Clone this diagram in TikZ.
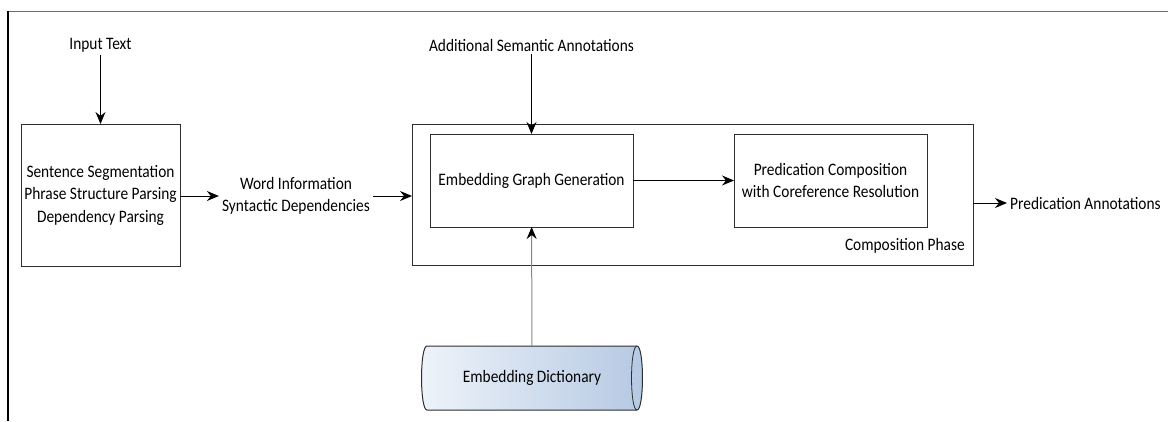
\documentclass[tikz,border=0pt]{standalone}
\usepackage{fontspec}
\setmainfont{Carlito}[FakeStretch=0.88]
\usetikzlibrary{arrows.meta}
\definecolor{cylL}{HTML}{EEF3FA}
\definecolor{cylR}{HTML}{B5C9E3}
\definecolor{edge}{HTML}{2E2E2E}
\definecolor{frametop}{HTML}{6E6E6E}
\definecolor{feed}{HTML}{858585}

\begin{document}
\begin{tikzpicture}[x=1pt,y=-1pt,
  font=\fontsize{17.5}{22.5}\selectfont,
  tip/.tip={Stealth[length=12pt,width=10pt,inset=4pt,color=black]},
  arr/.style={line width=1pt, -tip},
  box/.style={draw=edge, line width=1pt, outer sep=0pt, inner sep=0pt, align=center},
  lbl/.style={inner sep=3pt, align=center}]
\useasboundingbox (0,0) rectangle (1168,421);

% page frame (top and left rules)
\draw[frametop, line width=1.5pt] (8,11.5) -- (1168,11.5);
\draw[black, line width=1.5pt] (8,11) -- (8,421);

% preprocessing
\node[lbl] (input) at (100.5,45) {Input Text};
\node[box, minimum width=159pt, minimum height=142pt] (prep) at (100.5,195)
  {Sentence Segmentation\\Phrase Structure Parsing\\Dependency Parsing};
\node[lbl] (word) at (296,196) {Word Information\\Syntactic Dependencies};

% composition phase
\node[box, minimum width=561pt, minimum height=141pt] (comp) at (692.5,194.5) {};
\node[box, minimum width=203pt, minimum height=93pt] (emb) at (531.5,180.5)
  {Embedding Graph Generation};
\node[box, minimum width=193pt, minimum height=93pt] (pred) at (830.5,180.5)
  {Predication Composition\\with Coreference Resolution};
\node[anchor=east, inner sep=0pt] (phase) at (965,246) {Composition Phase};
\node[lbl, anchor=west] (out) at (1007,203) {Predication Annotations};
\node[lbl] (addl) at (531.5,45) {Additional Semantic Annotations};

% embedding dictionary (horizontal cylinder)
\shadedraw[left color=cylL, right color=cylR, draw=edge, line width=1pt]
  (427,346) -- (637,346) .. controls (644.3,346) and (644.3,410) .. (637,410)
  -- (427,410) .. controls (419.7,410) and (419.7,346) .. (427,346) -- cycle;
\draw[edge, line width=0.8pt] (637,346) .. controls (629.7,346) and (629.7,410) .. (637,410);
\node[inner sep=0pt, minimum width=210pt, minimum height=64pt] (dict) at (532,378)
  {Embedding Dictionary};

% connectors
\draw[arr] (input) -- (prep);
\draw[arr] (prep.east |- word) -- (word.west);
\draw[arr] (word.east) -- (word.east -| comp.west);
\draw[arr] (emb) -- (pred);
\draw[arr] (out.west -| comp.east) -- (out.west);
\draw[arr] (addl) -- (emb);
\draw[arr, feed] (dict) -- (emb);
\end{tikzpicture}
\end{document}
